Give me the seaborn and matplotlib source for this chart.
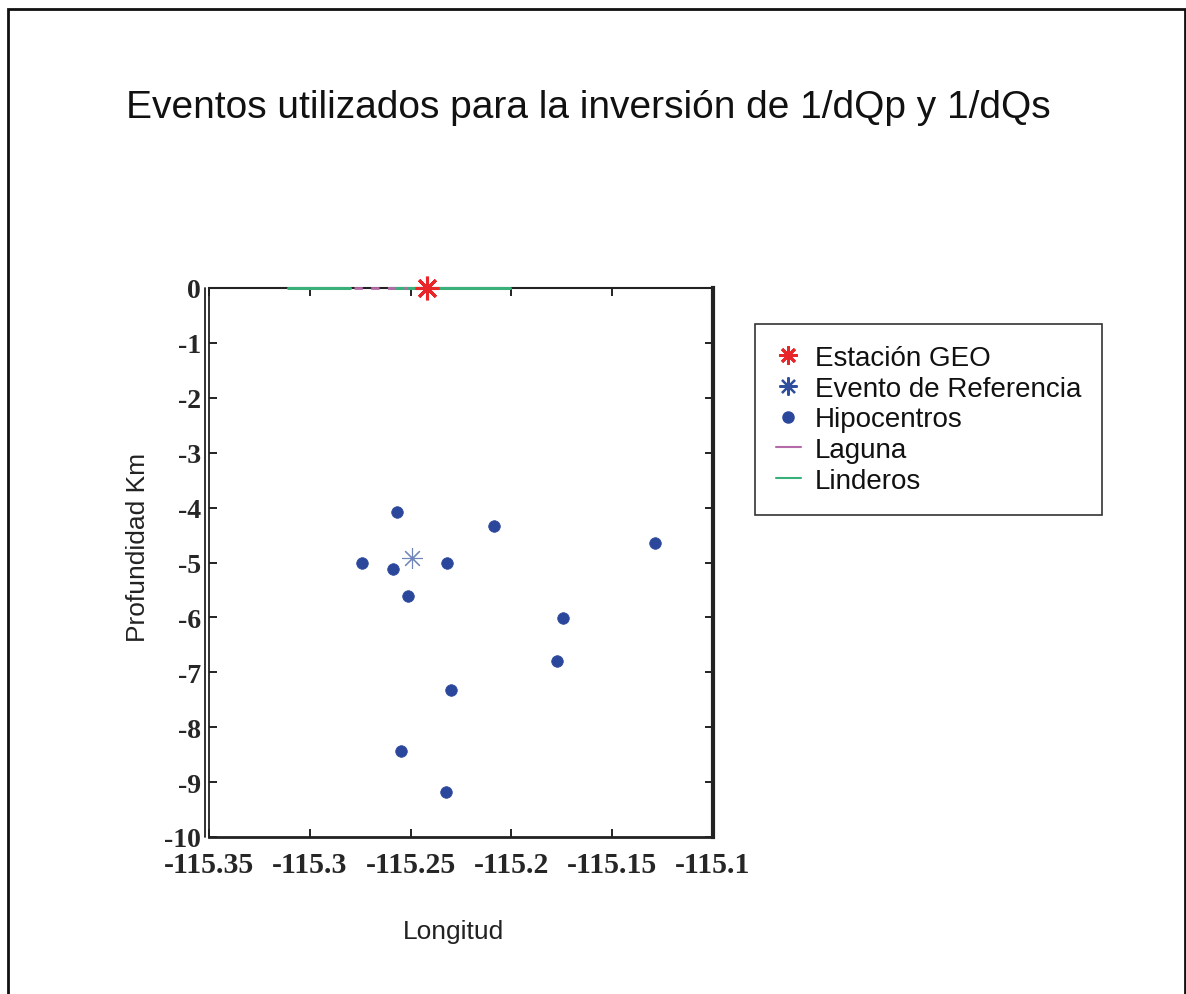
import numpy as np
import pandas as pd
import matplotlib
matplotlib.use("Agg")
import matplotlib.pyplot as plt
import matplotlib.transforms as mtransforms
from matplotlib.lines import Line2D
from matplotlib.patches import Rectangle
import seaborn as sns

sns.set_theme(style="white")
plt.rcParams["font.family"] = ["Liberation Sans", "DejaVu Sans"]

# Hypocentres (longitude, depth in km)
hypo_lon = [-115.2567, -115.2086, -115.1288, -115.2741, -115.2587, -115.2319,
            -115.2513, -115.1744, -115.1774, -115.2300, -115.2548, -115.2324]
hypo_depth = [-4.08, -4.34, -4.64, -5.01, -5.12, -5.01,
              -5.61, -6.01, -6.79, -7.32, -8.43, -9.18]

# Reference event
ref_lon = [-115.2493]
ref_depth = [-4.92]

# GEO station at the surface
geo_lon = [-115.2419]
geo_depth = [0.0]

# Surface traces of the lagoon and the property boundaries
laguna_lon = [-115.278, -115.252]
laguna_depth = [0.0, 0.0]
linderos_lon = [-115.311, -115.280, -115.281, -115.260, -115.2605, -115.2007]
linderos_depth = [0.0, 0.0, np.nan, np.nan, 0.0, 0.0]

x_ticks = [-115.35, -115.3, -115.25, -115.2, -115.15, -115.1]
x_ticklabels = ["-115.35", "-115.3", "-115.25", "-115.2", "-115.15", "-115.1"]
y_ticks = [0, -1, -2, -3, -4, -5, -6, -7, -8, -9, -10]

c_geo = "#e8262a"
c_ref = "#2f4f9c"
c_hypo = "#2b479b"
c_laguna = "#b46aa8"
c_linderos = "#39b07a"

fig = plt.figure(figsize=(11.86, 9.95), dpi=100)
ax = fig.add_axes([209 / 1186, 1 - 838 / 995, 504 / 1186, 549 / 995])

laguna_df = pd.DataFrame({"lon": laguna_lon, "depth": laguna_depth})
linderos_df = pd.DataFrame({"lon": linderos_lon, "depth": linderos_depth})
hypo_df = pd.DataFrame({"lon": hypo_lon, "depth": hypo_depth})

ax.plot(linderos_df["lon"], linderos_df["depth"], color=c_linderos, lw=2.2,
        zorder=3, clip_on=False)
ax.plot(laguna_df["lon"], laguna_df["depth"], color=c_laguna, lw=2.0,
        ls=(0, (3, 3)), zorder=3, clip_on=False)

sns.scatterplot(data=hypo_df, x="lon", y="depth", ax=ax, color=c_hypo,
                s=70, edgecolor=c_hypo, linewidth=0.5, zorder=4, legend=False)

asterisk = (8, 2, 0)
ax.plot(ref_lon, ref_depth, ls="none", marker=asterisk, ms=15, mew=0.8,
        color="#6f86b8", zorder=4)
ax.plot(geo_lon, geo_depth, ls="none", marker=asterisk, ms=17, mew=2.2,
        color=c_geo, zorder=6, clip_on=False)

ax.set_xlim(-115.35, -115.1)
ax.set_ylim(-10, 0)
ax.set_xticks(x_ticks)
ax.set_xticklabels(x_ticklabels)
ax.set_yticks(y_ticks)
ax.set_yticklabels([str(v) for v in y_ticks])

serif = ["Liberation Serif", "DejaVu Serif"]
for lab in ax.get_xticklabels():
    lab.set_fontfamily(serif)
    lab.set_fontweight("bold")
    lab.set_fontsize(21.5)
for lab in ax.get_yticklabels():
    lab.set_fontfamily(serif)
    lab.set_fontweight("bold")
    lab.set_fontsize(20)

ax.tick_params(axis="both", direction="in", length=6, width=1.4, color="#222222",
               top=True, right=True, bottom=True, left=True)
ax.tick_params(axis="x", pad=10)
ax.tick_params(axis="y", pad=6)

for side, lw in [("left", 1.3), ("bottom", 2.0), ("top", 1.5), ("right", 3.0)]:
    ax.spines[side].set_visible(True)
    ax.spines[side].set_color("#222222")
    ax.spines[side].set_linewidth(lw)

# second rule of the doubled left edge
shift = mtransforms.offset_copy(ax.transAxes, fig=fig, x=-4, y=0, units="dots")
ax.add_line(Line2D([0, 0], [0, 1], transform=shift, color="#222222", lw=1.3,
                   clip_on=False))

ax.set_xlabel("Longitud", fontsize=19, color="#222222")
ax.set_ylabel("Profundidad Km", fontsize=19, color="#222222")
ax.xaxis.set_label_coords(0.485, -0.149)
ax.yaxis.set_label_coords(-0.117, 0.53)

fig.text(0.496, 1 - 108 / 995, "Eventos utilizados para la inversión de 1/dQp y 1/dQs",
         ha="center", va="center", fontsize=28, color="#111111")

handles = [
    Line2D([], [], ls="none", marker=asterisk, ms=13, mew=2.0, color=c_geo),
    Line2D([], [], ls="none", marker=asterisk, ms=13, mew=1.6, color=c_ref),
    Line2D([], [], ls="none", marker="o", ms=8, color=c_hypo),
    Line2D([], [], color=c_laguna, lw=1.5),
    Line2D([], [], color=c_linderos, lw=1.5),
]
labels = ["Estación GEO", "Evento de Referencia", "Hipocentros", "Laguna", "Linderos"]
leg = fig.legend(handles, labels, loc="upper left",
                 bbox_to_anchor=(755 / 1186, 1 - 325 / 995),
                 bbox_transform=fig.transFigure, fontsize=20, frameon=True,
                 fancybox=False, framealpha=1, edgecolor="#333333",
                 handlelength=0.9, handletextpad=0.5, labelspacing=0.17,
                 borderpad=0.75, borderaxespad=0)
leg.get_frame().set_linewidth(1.2)
for t in leg.get_texts():
    t.set_color("#111111")

# page frame
fig.add_artist(Rectangle((8 / 1186, -0.05), 1177 / 1186, 1.05 - 10 / 995,
                         transform=fig.transFigure, fill=False,
                         edgecolor="#111111", lw=2.0))

fig.savefig("out.png", dpi=100, facecolor="white")
